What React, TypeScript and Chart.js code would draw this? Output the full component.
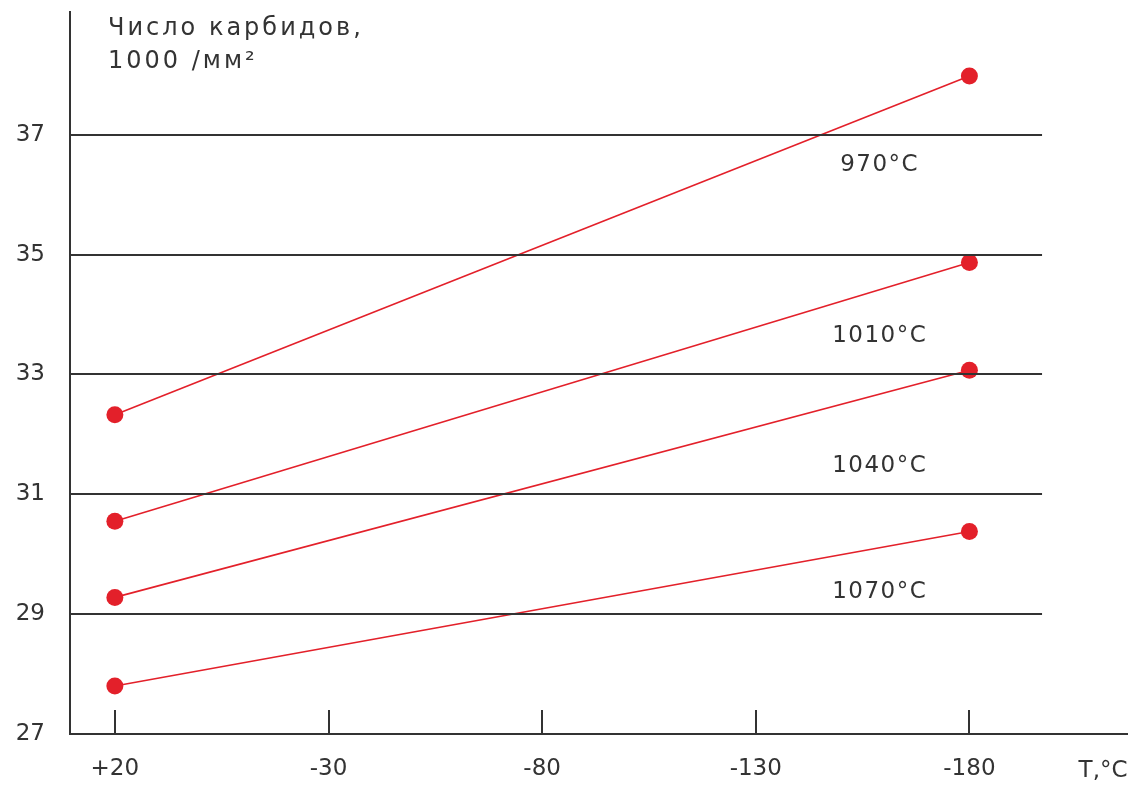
import React, { useEffect, useRef } from "react";
import { Chart, registerables } from "chart.js";

Chart.register(...registerables);

const temps = [20, -30, -80, -130, -180];
const tempLabels = ["+20", "-30", "-80", "-130", "-180"];
const yTickValues = [27, 29, 31, 33, 35, 37];
const pointTemps = [20, -180];
const s970 = [32.33, 37.98];
const s1010 = [30.55, 34.87];
const s1040 = [29.28, 33.07];
const s1070 = [27.8, 30.38];
const seriesNames = ["970°C", "1010°C", "1040°C", "1070°C"];
const seriesValues = [s970, s1010, s1040, s1070];
const labelX = -159;
const labelY = [36.49, 33.65, 31.48, 29.37];
const yTitle = ["Число карбидов,", "1000 /мм²"];
const xTitle = "T,°C";
const gridEnd = -197;

const RED = "#e3202a";
const INK = "#333333";
const FONT = "DejaVu Sans";

const decorPlugin = {
  id: "decor",
  afterDraw(chart: any) {
    const ctx = chart.ctx;
    const x = chart.scales.x;
    const y = chart.scales.y;
    const area = chart.chartArea;
    ctx.save();
    ctx.strokeStyle = INK;
    ctx.lineWidth = 2;
    yTickValues.slice(1).forEach((v) => {
      const py = Math.round(y.getPixelForValue(v));
      ctx.beginPath();
      ctx.moveTo(area.left, py);
      ctx.lineTo(x.getPixelForValue(gridEnd), py);
      ctx.stroke();
    });
    temps.forEach((t) => {
      const px = Math.round(x.getPixelForValue(t));
      ctx.beginPath();
      ctx.moveTo(px, area.bottom);
      ctx.lineTo(px, area.bottom - 24);
      ctx.stroke();
    });
    ctx.fillStyle = INK;
    ctx.font = `23px "${FONT}"`;
    ctx.textAlign = "center";
    ctx.textBaseline = "middle";
    (ctx as any).letterSpacing = "1.5px";
    seriesNames.forEach((n, i) => {
      ctx.fillText(n, x.getPixelForValue(labelX), y.getPixelForValue(labelY[i]));
    });
    ctx.textAlign = "left";
    ctx.textBaseline = "alphabetic";
    (ctx as any).letterSpacing = "3px";
    ctx.font = `24px "${FONT}"`;
    ctx.fillText(yTitle[0], area.left + 38, 35);
    ctx.fillText(yTitle[1], area.left + 38, 68);
    ctx.font = `23px "${FONT}"`;
    (ctx as any).letterSpacing = "0px";
    ctx.textAlign = "right";
    ctx.fillText(xTitle, area.right, 777);
    ctx.restore();
  },
};

const zeroPad = (s: any) => {
  s.paddingTop = 0;
  s.paddingBottom = 0;
  s.paddingLeft = 0;
  s.paddingRight = 0;
};

export default function App() {
  const ref = useRef<HTMLCanvasElement>(null);
  useEffect(() => {
    document.body.style.margin = "0";
    const datasets = seriesValues.map((vals, i) => ({
      label: seriesNames[i],
      data: pointTemps.map((t, j) => ({ x: t, y: vals[j] })),
      showLine: true,
      borderColor: RED,
      backgroundColor: RED,
      borderWidth: 1.6,
      pointRadius: 8.5,
      pointBorderWidth: 0,
      pointBackgroundColor: RED,
    }));
    const chart = new Chart(ref.current as HTMLCanvasElement, {
      type: "scatter",
      data: { datasets },
      plugins: [decorPlugin],
      options: {
        animation: false,
        responsive: false,
        layout: { padding: { top: 12, right: 6, left: 0, bottom: 0 } },
        plugins: { legend: { display: false }, tooltip: { enabled: false } },
        scales: {
          x: {
            type: "linear",
            reverse: true,
            min: -217,
            max: 30.5,
            afterBuildTicks: (s: any) => {
              s.ticks = temps.map((v) => ({ value: v }));
            },
            afterFit: (s: any) => {
              s.height = 53;
              zeroPad(s);
            },
            grid: { display: false, drawTicks: false },
            border: { display: true, color: INK, width: 2 },
            ticks: {
              autoSkip: false,
              maxRotation: 0,
              padding: 21,
              color: INK,
              font: { family: FONT, size: 23 },
              callback: (v: any) => tempLabels[temps.indexOf(v)] ?? "",
            },
          },
          y: {
            type: "linear",
            min: 27,
            max: 39.05,
            afterBuildTicks: (s: any) => {
              s.ticks = yTickValues.map((v) => ({ value: v }));
            },
            afterFit: (s: any) => {
              s.width = 70;
              zeroPad(s);
            },
            grid: { display: false, drawTicks: false },
            border: { display: true, color: INK, width: 2 },
            ticks: {
              padding: 25,
              color: INK,
              font: { family: FONT, size: 23 },
              callback: (v: any) => String(v),
            },
          },
        },
      },
    } as any);
    return () => chart.destroy();
  }, []);
  return (
    <div style={{ width: 1136, height: 787, background: "#fff" }}>
      <canvas ref={ref} width={1136} height={787} style={{ display: "block" }} />
    </div>
  );
}
